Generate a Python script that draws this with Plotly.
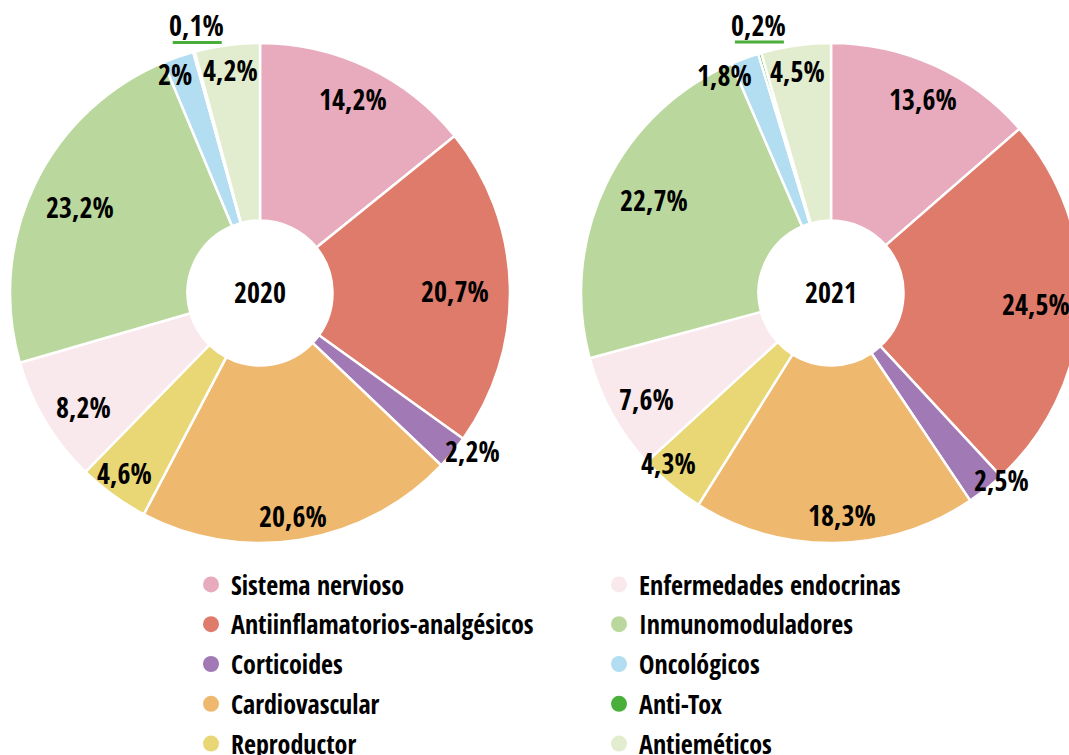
import math
import plotly.graph_objects as go

# ---------------- data ----------------
categories = [
    "Sistema nervioso", "Antiinflamatorios-analgésicos", "Corticoides",
    "Cardiovascular", "Reproductor", "Enfermedades endocrinas",
    "Inmunomoduladores", "Oncológicos", "Anti-Tox", "Antieméticos",
]
values_2020 = [14.2, 20.7, 2.2, 20.6, 4.6, 8.2, 23.2, 2.0, 0.1, 4.2]
values_2021 = [13.6, 24.5, 2.5, 18.3, 4.3, 7.6, 22.7, 1.8, 0.2, 4.5]
years = ["2020", "2021"]

# ---------------- style ----------------
colors = ["#E8AABD", "#DF7B6B", "#A079B5", "#EEB96F", "#E9D675",
          "#F9E8EC", "#BAD89D", "#B3DDF1", "#4AAE3B", "#E2EDCF"]
FONT = "Open Sans Condensed, Roboto Condensed, sans-serif"
W, H = 1085, 755
R = 250
centers = [(260, 293), (831, 293)]
HOLE = 0.29
# label radius (fraction of R) and angular offsets (deg) per slice
label_r = [
    [0.86, 0.78, 1.06, 0.90, 0.90, 0.84, 0.80, 0.94, 1.10, 0.90],
    [0.86, 0.82, 1.01, 0.89, 0.94, 0.85, 0.80, 0.97, 1.11, 0.90],
]
label_da = [
    [0, 1, -3, 1, 1, -2, 0, -2, 2, 0],
    [1, 0, -4, -2, 4, -1, 2, -6, 1.5, -0.5],
]

def fmt(v):
    s = ("%.1f" % v).replace(".", ",")
    if s.endswith(",0"):
        s = s[:-2]
    return s + "%"

fig = go.Figure()
annotations = []
shapes = []

for k, (vals, yr) in enumerate(zip([values_2020, values_2021], years)):
    cx, cy = centers[k]
    fig.add_trace(go.Pie(
        labels=categories, values=vals, sort=False, direction="clockwise",
        rotation=0, hole=HOLE, textinfo="none", hoverinfo="label+percent",
        marker=dict(colors=colors, line=dict(color="white", width=2.5)),
        showlegend=False,
        domain=dict(x=[(cx - R) / W, (cx + R) / W],
                    y=[1 - (cy + R) / H, 1 - (cy - R) / H]),
    ))
    annotations.append(dict(
        x=cx / W, y=1 - (cy - 1) / H, xref="paper", yref="paper", text="<b>%s</b>" % yr,
        showarrow=False, font=dict(family=FONT, size=28, color="black"),
        xanchor="center", yanchor="middle"))
    total = sum(vals)
    cum = 0.0
    for i, v in enumerate(vals):
        mid = (cum + v / 2) / total * 360 + label_da[k][i]
        cum += v
        rr = label_r[k][i] * R
        px = cx + rr * math.sin(math.radians(mid))
        py = cy - rr * math.cos(math.radians(mid))
        annotations.append(dict(
            x=px / W, y=1 - py / H, xref="paper", yref="paper",
            text="<b>%s</b>" % fmt(v), showarrow=False,
            font=dict(family=FONT, size=28, color="black"),
            xanchor="center", yanchor="middle"))
        if categories[i] == "Anti-Tox":
            shapes.append(dict(
                type="line", xref="paper", yref="paper",
                x0=(px - 24) / W, x1=(px + 25) / W,
                y0=1 - (py + 17) / H, y1=1 - (py + 17) / H,
                line=dict(color=colors[i], width=3)))

# legend via dummy traces
for i, (cat, col) in enumerate(zip(categories, colors)):
    fig.add_trace(go.Scatter(
        x=[None], y=[None], mode="markers", name="<b>%s</b>" % cat,
        marker=dict(color=col, size=16, symbol="circle"),
        legend="legend" if i < 5 else "legend2", legendgroup=cat,
        showlegend=True))

legend_common = dict(
    font=dict(family=FONT, size=26, color="black"),
    bgcolor="rgba(0,0,0,0)", borderwidth=0, tracegroupgap=3,
    yanchor="top", xanchor="left", itemclick=False, itemdoubleclick=False,
)
fig.update_layout(
    width=W, height=H, margin=dict(l=0, r=0, t=0, b=0, autoexpand=False),
    paper_bgcolor="white", plot_bgcolor="white",
    xaxis=dict(visible=False), yaxis=dict(visible=False),
    annotations=annotations, shapes=shapes,
    legend=dict(x=191 / W, y=1 - 561 / H, **legend_common),
    legend2=dict(x=599 / W, y=1 - 561 / H, **legend_common),
)

fig.write_html("out.html", config={"displayModeBar": False}, post_script=(
    "document.body.style.margin='0';document.body.style.overflow='hidden';"
    "document.documentElement.style.overflow='hidden';"))
